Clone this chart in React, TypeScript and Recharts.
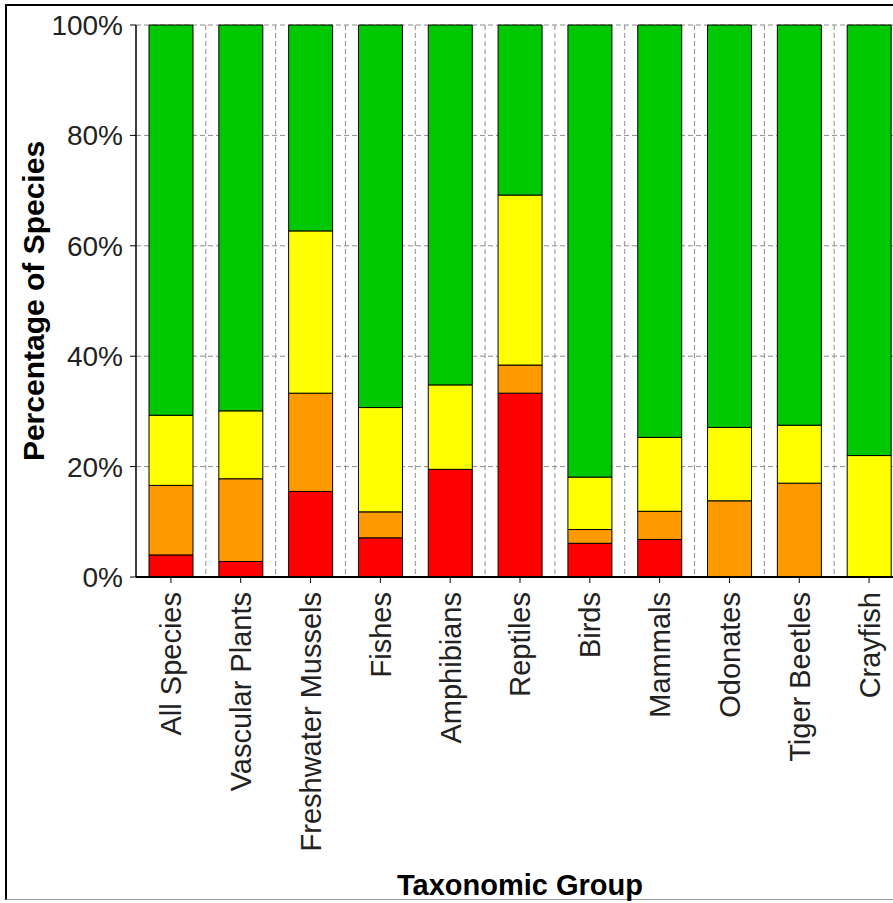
import { BarChart, Bar, XAxis, YAxis, CartesianGrid } from "recharts";

const groups = [
  "All Species", "Vascular Plants", "Freshwater Mussels", "Fishes", "Amphibians",
  "Reptiles", "Birds", "Mammals", "Odonates", "Tiger Beetles", "Crayfish",
];

// percentage of species per status class, read bottom-up
const red    = [4.0, 2.8, 15.5, 7.1, 19.5, 33.3, 6.1, 6.8, 0, 0, 0];
const orange = [12.6, 15.0, 17.8, 4.7, 0, 5.1, 2.5, 5.1, 13.8, 17.0, 0];
const yellow = [12.7, 12.3, 29.4, 18.9, 15.3, 30.8, 9.5, 13.4, 13.3, 10.5, 22.0];
const green  = [70.7, 69.9, 37.3, 69.3, 65.2, 30.8, 81.9, 74.7, 72.9, 72.5, 78.0];

const yTicks = [0, 20, 40, 60, 80, 100];

const data = groups.map((g, i) => ({
  group: g, red: red[i], orange: orange[i], yellow: yellow[i], green: green[i],
}));

const FONT = '"Liberation Sans", Arial, sans-serif';

function GroupTick({ x, y, payload }: any) {
  return (
    <text
      transform={`translate(${x},${y + 7}) rotate(-90)`}
      textAnchor="end"
      dy="0.36em"
      fontFamily={FONT}
      fontSize={29}
      fill="#222"
    >
      {payload.value}
    </text>
  );
}

export default function App() {
  return (
    <div style={{ position: "absolute", left: 0, top: 0, width: 893, height: 903, overflow: "hidden", background: "#fff" }}>
      <div
        style={{
          position: "absolute", left: 5, top: 4, width: 1000, height: 893,
          borderTop: "2px solid #000", borderLeft: "2px solid #000", borderBottom: "1px solid #999",
        }}
      />
      <div style={{ position: "absolute", left: 0, top: 0 }}>
        <BarChart
          width={920}
          height={903}
          data={data}
          margin={{ top: 25, right: 16, bottom: 0, left: 0 }}
          barSize={44}
        >
          <CartesianGrid
            stroke="#8c8c8c"
            strokeDasharray="5 3"
            verticalCoordinatesGenerator={({ offset }: any) =>
              groups.map((_, i) => offset.left + ((i + 1) * offset.width) / groups.length)
            }
          />
          <XAxis
            dataKey="group"
            height={326}
            interval={0}
            tickSize={6}
            tickLine={{ stroke: "#000" }}
            axisLine={{ stroke: "#000", strokeWidth: 2 }}
            tick={<GroupTick />}
            label={{
              content: ({ viewBox }: any) => (
                <text
                  x={viewBox.x + viewBox.width / 2}
                  y={viewBox.y + 318}
                  textAnchor="middle"
                  fontFamily={FONT}
                  fontWeight="bold"
                  fontSize={29}
                  fill="#000"
                >
                  Taxonomic Group
                </text>
              ),
            }}
          />
          <YAxis
            width={136}
            domain={[0, 100]}
            ticks={yTicks}
            tickFormatter={(v) => `${v}%`}
            tickSize={6}
            tickMargin={7}
            tickLine={{ stroke: "#000" }}
            axisLine={{ stroke: "#000", strokeWidth: 1.5 }}
            tick={{ fontFamily: FONT, fontSize: 28, fill: "#222" }}
            label={{
              content: ({ viewBox }: any) => (
                <text
                  transform={`translate(${viewBox.x + 33},${viewBox.y + viewBox.height / 2}) rotate(-90)`}
                  textAnchor="middle"
                  dy="0.36em"
                  fontFamily={FONT}
                  fontWeight="bold"
                  fontSize={30}
                  fill="#000"
                >
                  Percentage of Species
                </text>
              ),
            }}
          />
          <Bar dataKey="red" stackId="s" fill="#FF0000" stroke="#000" strokeWidth={1} isAnimationActive={false} />
          <Bar dataKey="orange" stackId="s" fill="#FF9900" stroke="#000" strokeWidth={1} isAnimationActive={false} />
          <Bar dataKey="yellow" stackId="s" fill="#FFFF00" stroke="#000" strokeWidth={1} isAnimationActive={false} />
          <Bar dataKey="green" stackId="s" fill="#00C800" stroke="#000" strokeWidth={1} isAnimationActive={false} />
        </BarChart>
      </div>
    </div>
  );
}
